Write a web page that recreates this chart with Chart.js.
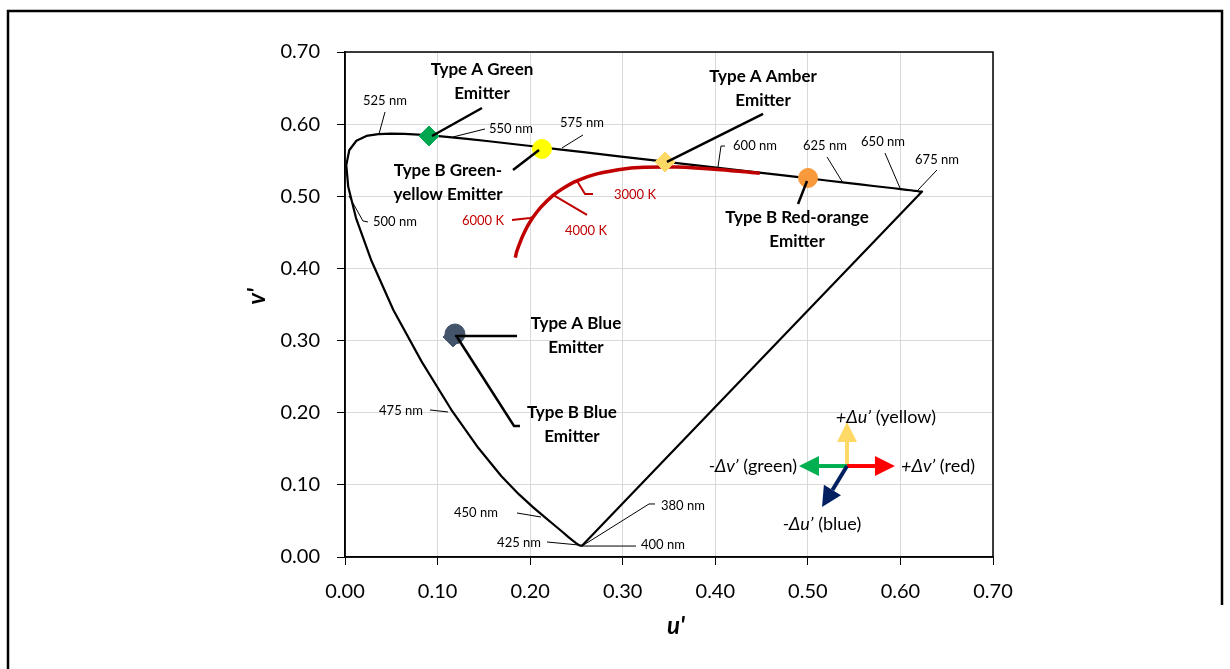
<!DOCTYPE html>
<html><head><meta charset="utf-8">
<script src="https://cdn.jsdelivr.net/npm/chart.js@4.4.1/dist/chart.umd.min.js"></script>
<style>html,body{margin:0;padding:0;background:#fff;}#wrap{width:1230px;height:669px;}</style>
</head><body><div id="wrap"><canvas id="c" width="1230" height="669"></canvas></div>
<script>
// ---------- DATA ----------
const tickLabels = ['0.00','0.10','0.20','0.30','0.40','0.50','0.60','0.70'];

// CIE 1976 spectral locus (u', v')
const locusNm = [380,385,390,395,400,405,410,415,420,425,430,435,440,445,450,455,460,465,470,475,480,485,490,495,500,505,510,515,520,525,530,535,540,545,550,555,560,565,570,575,580,585,590,595,600,605,610,615,620,625,630,635,640,645,650,655,660,665,670,675,680,690,700];
const locusU = [0.2568,0.2566,0.2564,0.2561,0.2557,0.2552,0.2545,0.2537,0.2522,0.2496,0.2461,0.2411,0.2347,0.2266,0.2161,0.2033,0.1877,0.1690,0.1441,0.1147,0.0828,0.0521,0.0282,0.0119,0.0035,0.0014,0.0046,0.0123,0.0231,0.0360,0.0501,0.0643,0.0792,0.0953,0.1127,0.1319,0.1531,0.1766,0.2026,0.2312,0.2623,0.2960,0.3315,0.3681,0.4035,0.4379,0.4692,0.4968,0.5203,0.5399,0.5565,0.5709,0.5830,0.5929,0.6005,0.6064,0.6109,0.6138,0.6162,0.6180,0.6198,0.6226,0.6234];
const locusV = [0.0166,0.0166,0.0163,0.0163,0.0159,0.0159,0.0159,0.0159,0.0169,0.0191,0.0226,0.0279,0.0350,0.0437,0.0549,0.0688,0.0871,0.1119,0.1510,0.2044,0.2708,0.3427,0.4117,0.4698,0.5131,0.5432,0.5638,0.5770,0.5837,0.5861,0.5868,0.5865,0.5856,0.5841,0.5821,0.5796,0.5766,0.5732,0.5694,0.5651,0.5604,0.5554,0.5501,0.5446,0.5393,0.5342,0.5296,0.5254,0.5219,0.5190,0.5165,0.5143,0.5125,0.5111,0.5099,0.5090,0.5084,0.5079,0.5076,0.5073,0.5069,0.5066,0.5065];

// Planckian locus (u', v')
const planckT = [1000,1200,1500,1800,2000,2500,3000,3500,4000,5000,6000,7000,8000,10000,15000,20000];
const planckU = [0.4480,0.4060,0.3579,0.3234,0.3051,0.2722,0.2505,0.2357,0.2251,0.2114,0.2033,0.1981,0.1946,0.1903,0.1856,0.1840];
const planckV = [0.5320,0.5369,0.5405,0.5403,0.5386,0.5311,0.5214,0.5113,0.5016,0.4847,0.4712,0.4606,0.4521,0.4400,0.4237,0.4150];

// Isotherm ticks
const iso3000 = [[0.2505,0.5214],[0.2593,0.5032],[0.2679,0.5032]];
const iso4000 = [[0.2251,0.5016],[0.2614,0.4741]];
const iso6000 = [[0.2033,0.4712],[0.1999,0.4699],[0.1804,0.4671]];
const isoLabels = ['3000 K','4000 K','6000 K'];
const isoLabelU = [0.3133,0.2603,0.1491];
const isoLabelV = [0.5018,0.4519,0.4658];

// Emitters
const emitterNames = ['Type A Green','Type B Green-yellow','Type A Amber','Type B Red-orange','Type A Blue','Type B Blue'];
const emitterU = [0.0907,0.2128,0.3457,0.5002,0.1167,0.1188];
const emitterV = [0.5836,0.5656,0.5475,0.5254,0.3050,0.3091];
const emitterLines = [['Type A Green','Emitter'],['Type B Green-','yellow Emitter'],['Type A Amber','Emitter'],['Type B Red-orange','Emitter'],['Type A Blue','Emitter'],['Type B Blue','Emitter']];
const emitterLabelU = [0.1480,0.1113,0.4516,0.4883,0.2495,0.2452];
const emitterLabelV = [0.6751,0.5351,0.6654,0.4699,0.3230,0.1996];

// Emitter leader lines
const leadAGreen = [[0.1480,0.6224],[0.0940,0.5836]];
const leadBGreenYellow = [[0.1815,0.5365],[0.2096,0.5642]];
const leadAAmber = [[0.4516,0.6141],[0.3478,0.5476]];
const leadBRedOrange = [[0.4991,0.5212],[0.4894,0.4893]];
const leadABlue = [[0.1188,0.3063],[0.1858,0.3063]];
const leadBBlue = [[0.1210,0.3050],[0.1826,0.1816],[0.1890,0.1816]];

// Wavelength labels and leaders
const nmLabels = ['525 nm','550 nm','575 nm','600 nm','625 nm','650 nm','675 nm','500 nm','475 nm','450 nm','425 nm','400 nm','380 nm'];
const nmLabelU = [0.0432,0.1793,0.2560,0.4429,0.5185,0.5812,0.6395,0.0540,0.0605,0.1415,0.1880,0.3435,0.3651];
const nmLabelV = [0.6321,0.5933,0.6016,0.5697,0.5697,0.5753,0.5503,0.4644,0.2024,0.0610,0.0194,0.0166,0.0707];
const lead525 = [[0.0432,0.6168],[0.0367,0.5863]];
const lead550 = [[0.1512,0.5933],[0.1167,0.5822]];
const lead575 = [[0.2571,0.5850],[0.2344,0.5670]];
const lead600 = [[0.4105,0.5697],[0.4062,0.5697],[0.4029,0.5406]];
const lead625 = [[0.5207,0.5545],[0.5380,0.5184]];
const lead650 = [[0.5833,0.5600],[0.5995,0.5115]];
const lead675 = [[0.6395,0.5365],[0.6190,0.5087]];
const lead500 = [[0.0248,0.4644],[0.0194,0.4658],[0.0043,0.5004]];
const lead475 = [[0.0918,0.2038],[0.1113,0.2010]];
const lead450 = [[0.1858,0.0610],[0.2117,0.0554]];
const lead425 = [[0.2182,0.0208],[0.2528,0.0166]];
const lead400 = [[0.3144,0.0152],[0.2549,0.0152]];
const lead380 = [[0.3349,0.0735],[0.3284,0.0735],[0.2560,0.0152]];

// Direction arrows
const arrowOrigin = [0.5423,0.1261];
const arrowTipU = [0.5423,0.5941,0.4904,0.5153];
const arrowTipV = [0.1871,0.1261,0.1261,0.0693];
const arrowItalic = ['+Δu’','+Δv’','-Δv’','-Δu’'];
const arrowText = [' (yellow)',' (red)',' (green)',' (blue)'];
const arrowLabelU = [0.5843,0.6006,0.4883,0.5153];
const arrowLabelV = [0.1941,0.1261,0.1261,0.0457];

// ---------- STYLES ----------
const FONT = 'Lato, Carlito, Calibri, "Open Sans", sans-serif';
const RED = '#C00000';
const emitterColors = ['#00A650','#FFFF00','#FFD966','#F89A3C','#44546A','#44546A'];
const emitterShapes = ['rectRot','circle','rectRot','circle','rectRot','circle'];
const emitterRadius = [10,9.5,10,9.5,10,10];
const arrowColors = ['#FFD966','#FF0000','#00B050','#002060'];
const arrowAlign = ['center','left','right','center'];

const toPts = arr => arr.map(p => ({x:p[0], y:p[1]}));
const lineDs = (arr, color, width, order) => ({
  data: toPts(arr), showLine: true, borderColor: color, backgroundColor: color,
  borderWidth: width, pointRadius: 0, pointHoverRadius: 0, order: order, tension: 0
});

const datasets = [];
// emitter leaders (top)
[leadAGreen, leadBGreenYellow, leadAAmber, leadBRedOrange, leadABlue, leadBBlue].forEach(a => datasets.push(lineDs(a, '#000', 2.5, 0)));
// markers (B blue circle above A blue diamond)
emitterNames.forEach((n, i) => datasets.push({
  label: n, data: [{x: emitterU[i], y: emitterV[i]}], showLine: false,
  pointStyle: emitterShapes[i], pointRadius: emitterRadius[i], pointHoverRadius: emitterRadius[i],
  backgroundColor: emitterColors[i], borderColor: emitterColors[i], borderWidth: 1,
  order: i === 4 ? 2 : 1
}));
// wavelength leaders
[lead525, lead550, lead575, lead600, lead625, lead650, lead675, lead500, lead475, lead450, lead425, lead400, lead380].forEach(a => datasets.push(lineDs(a, '#000', 1, 3)));
// isotherms
[iso3000, iso4000, iso6000].forEach(a => datasets.push(lineDs(a, RED, 2, 4)));
// planckian
datasets.push({
  label: 'Planckian locus', data: planckU.map((u, i) => ({x: u, y: planckV[i]})),
  showLine: true, borderColor: RED, borderWidth: 3.5, pointRadius: 0, pointHoverRadius: 0, tension: 0.3, order: 5
});
// spectral locus (closed by the line of purples)
const locusPts = locusU.map((u, i) => ({x: u, y: locusV[i]}));
locusPts.push({x: locusU[0], y: locusV[0]});
datasets.push({
  label: 'Spectral locus', data: locusPts, showLine: true, borderColor: '#000', borderWidth: 2.2,
  pointRadius: 0, pointHoverRadius: 0, tension: 0, order: 6, borderJoinStyle: 'round'
});

function drawArrow(ctx, x0, y0, x1, y1, color) {
  const ang = Math.atan2(y1 - y0, x1 - x0);
  const head = 20, half = 10;
  const bx = x1 - head * Math.cos(ang), by = y1 - head * Math.sin(ang);
  ctx.save();
  ctx.strokeStyle = color; ctx.fillStyle = color; ctx.lineWidth = 4; ctx.lineCap = 'butt';
  ctx.beginPath(); ctx.moveTo(x0, y0); ctx.lineTo(bx, by); ctx.stroke();
  ctx.beginPath();
  ctx.moveTo(x1, y1);
  ctx.lineTo(bx + half * Math.sin(ang), by - half * Math.cos(ang));
  ctx.lineTo(bx - half * Math.sin(ang), by + half * Math.cos(ang));
  ctx.closePath(); ctx.fill();
  ctx.restore();
}

const annotate = {
  id: 'annotate',
  beforeDatasetsDraw(chart) {
    const ctx = chart.ctx, a = chart.chartArea;
    ctx.save();
    ctx.strokeStyle = '#000'; ctx.lineWidth = 1.5;
    ctx.strokeRect(a.left, a.top, a.right - a.left, a.bottom - a.top);
    ctx.restore();
  },
  afterDatasetsDraw(chart) {
    const ctx = chart.ctx, xs = chart.scales.x, ys = chart.scales.y;
    const X = u => xs.getPixelForValue(u), Y = v => ys.getPixelForValue(v);
    ctx.save();
    ctx.textAlign = 'center'; ctx.textBaseline = 'middle';
    // wavelength labels
    ctx.fillStyle = '#000'; ctx.font = '13px ' + FONT;
    nmLabels.forEach((t, i) => ctx.fillText(t, X(nmLabelU[i]), Y(nmLabelV[i])));
    // isotherm labels
    ctx.fillStyle = RED;
    isoLabels.forEach((t, i) => ctx.fillText(t, X(isoLabelU[i]), Y(isoLabelV[i])));
    // emitter labels
    ctx.fillStyle = '#000'; ctx.font = 'bold 17px ' + FONT;
    emitterLines.forEach((lines, i) => lines.forEach((t, k) => ctx.fillText(t, X(emitterLabelU[i]), Y(emitterLabelV[i]) + k * 24)));
    // direction arrows
    const ox = X(arrowOrigin[0]), oy = Y(arrowOrigin[1]);
    arrowColors.forEach((c, i) => drawArrow(ctx, ox, oy, X(arrowTipU[i]), Y(arrowTipV[i]), c));
    ctx.fillStyle = '#000';
    arrowItalic.forEach((it, i) => {
      const fi = 'italic 18px ' + FONT, fn = '18px ' + FONT;
      ctx.font = fi; const w1 = ctx.measureText(it).width;
      ctx.font = fn; const w2 = ctx.measureText(arrowText[i]).width;
      let x = X(arrowLabelU[i]);
      if (arrowAlign[i] === 'center') x -= (w1 + w2) / 2;
      else if (arrowAlign[i] === 'right') x -= (w1 + w2);
      const y = Y(arrowLabelV[i]);
      ctx.textAlign = 'left';
      ctx.font = fi; ctx.fillText(it, x, y);
      ctx.font = fn; ctx.fillText(arrowText[i], x + w1, y);
    });
    ctx.restore();
  },
  afterDraw(chart) {
    const ctx = chart.ctx, a = chart.chartArea;
    ctx.save();
    // axis titles
    ctx.fillStyle = '#000'; ctx.font = 'bold italic 24px ' + FONT;
    ctx.textAlign = 'center'; ctx.textBaseline = 'middle';
    ctx.fillText("u'", (a.left + a.right) / 2 + 7, a.bottom + 69);
    ctx.translate(a.left - 88, (a.top + a.bottom) / 2 - 8);
    ctx.rotate(-Math.PI / 2);
    ctx.fillText("v'", 0, 0);
    ctx.restore();
    // outer frame
    ctx.save();
    ctx.strokeStyle = '#000'; ctx.lineWidth = 2.5;
    ctx.beginPath();
    ctx.moveTo(8, 669); ctx.lineTo(8, 11); ctx.lineTo(1222, 11); ctx.lineTo(1222, 605);
    ctx.stroke();
    ctx.restore();
  }
};

const tickFont = {family: FONT, size: 20};
new Chart(document.getElementById('c'), {
  type: 'scatter',
  data: {datasets},
  options: {
    responsive: false, animation: false, devicePixelRatio: 1,
    layout: {padding: {left: 0, top: 52, right: 237, bottom: 0}},
    plugins: {legend: {display: false}, tooltip: {enabled: false}},
    events: [],
    scales: {
      x: {
        type: 'linear', min: 0, max: 0.7,
        afterFit: s => { s.height = 112; },
        grid: {color: '#d9d9d9', lineWidth: 1, tickColor: '#000', tickLength: 8},
        border: {color: '#000', width: 1.5},
        ticks: {stepSize: 0.1, padding: 15, color: '#000', font: tickFont, maxRotation: 0,
          callback: (v, i) => tickLabels[i]}
      },
      y: {
        type: 'linear', min: 0, max: 0.7,
        afterFit: s => { s.width = 345; },
        grid: {color: '#d9d9d9', lineWidth: 1, tickColor: '#000', tickLength: 8},
        border: {color: '#000', width: 1.5},
        ticks: {stepSize: 0.1, padding: 17, color: '#000', font: tickFont,
          callback: (v, i) => tickLabels[i]}
      }
    }
  },
  plugins: [annotate]
});
</script></body></html>
